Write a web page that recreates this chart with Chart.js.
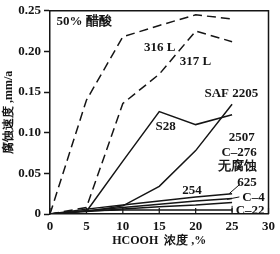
<!DOCTYPE html>
<html>
<head>
<meta charset="utf-8">
<script src="https://cdn.jsdelivr.net/npm/chart.js@4"></script>
<style>
  html, body { margin: 0; padding: 0; background: #fff; }
  #wrap { width: 280px; height: 254px; }
</style>
</head>
<body>
<div id="wrap"><canvas id="c"></canvas></div>
<script>
// HCOOH concentration, %
const conc = [0, 5, 10, 15, 20, 25];

// corrosion rate, mm/a
const s316L = [0, 0.14, 0.218, 0.232, 0.245, 0.24];
const s317L = [0, 0.008, 0.136, 0.172, 0.225, 0.212];
const sS28 = [null, 0.003, 0.065, 0.126, 0.11, 0.122];
const sSAF2205 = [null, 0.003, 0.01, 0.034, 0.078, 0.135];
const s254 = [0, 0.006, 0.011, 0.016, 0.021, 0.025];
const s625 = [0, 0.004, 0.008, 0.012, 0.016, 0.019];
const sC4 = [0, 0.003, 0.006, 0.009, 0.011, 0.014];
const sC22 = [0, 0.004, 0.005, 0.005, 0.005, 0.005];

const yTicks = [0, 0.05, 0.1, 0.15, 0.2, 0.25];
const yTickLabels = ['0', '0.05', '0.10', '0.15', '0.20', '0.25'];
const xTicks = [0, 5, 10, 15, 20, 25, 30];

// text notes placed in data units
const notes = [
  { t: '50% 醋酸', x: 0.9, y: 0.237, a: 'left' },
  { t: '316 L', x: 12.9, y: 0.205, a: 'left' },
  { t: '317 L', x: 17.8, y: 0.187, a: 'left' },
  { t: 'SAF 2205', x: 21.2, y: 0.148, a: 'left' },
  { t: 'S28', x: 14.5, y: 0.108, a: 'left' },
  { t: '2507', x: 28.1, y: 0.094, a: 'right' },
  { t: 'C–276', x: 28.4, y: 0.076, a: 'right' },
  { t: '无腐蚀', x: 28.4, y: 0.058, a: 'right' },
  { t: '625', x: 28.4, y: 0.039, a: 'right' },
  { t: '254', x: 19.5, y: 0.029, a: 'center' },
  { t: 'C–4', x: 26.4, y: 0.020, a: 'left' },
  { t: 'C–22', x: 25.5, y: 0.004, a: 'left' }
];
// leader lines from notes to curve ends
const leaders = [
  [[26.0, 0.036], [24.6, 0.025]],
  [[26.0, 0.021], [24.3, 0.018]],
  [[25.0, 0.010], [25.0, 0.002]]
];

const ink = '#151515';
const serif = '"Liberation Serif", "DejaVu Serif", serif';

function line(label, data, dashed) {
  return {
    label, data,
    borderColor: ink,
    borderWidth: 1.5,
    borderDash: dashed ? [9, 5] : [],
    pointRadius: 0,
    tension: 0,
    fill: false,
    spanGaps: false
  };
}

const decor = {
  id: 'decor',
  afterDraw(chart) {
    const { ctx, chartArea: a, scales: { x, y } } = chart;
    ctx.save();
    ctx.strokeStyle = ink;
    ctx.lineWidth = 1.5;
    // frame on top and right
    ctx.beginPath();
    ctx.moveTo(a.left, a.top);
    ctx.lineTo(a.right, a.top);
    ctx.lineTo(a.right, a.bottom);
    ctx.stroke();
    // inward x ticks
    ctx.lineWidth = 1.2;
    xTicks.forEach(v => {
      const px = x.getPixelForValue(v);
      ctx.beginPath();
      ctx.moveTo(px, a.bottom);
      ctx.lineTo(px, a.bottom - 6);
      ctx.stroke();
    });
    // leaders
    ctx.lineWidth = 1;
    leaders.forEach(l => {
      ctx.beginPath();
      ctx.moveTo(x.getPixelForValue(l[0][0]), y.getPixelForValue(l[0][1]));
      ctx.lineTo(x.getPixelForValue(l[1][0]), y.getPixelForValue(l[1][1]));
      ctx.stroke();
    });
    // notes
    ctx.fillStyle = ink;
    ctx.font = 'bold 13px ' + serif;
    ctx.textBaseline = 'middle';
    notes.forEach(n => {
      ctx.textAlign = n.a;
      ctx.fillText(n.t, x.getPixelForValue(n.x), y.getPixelForValue(n.y));
    });
    ctx.restore();
  }
};

new Chart(document.getElementById('c'), {
  type: 'line',
  data: {
    labels: conc,
    datasets: [
      line('316L', s316L, true),
      line('317L', s317L, true),
      line('S28', sS28, false),
      line('SAF 2205', sSAF2205, false),
      line('254', s254, false),
      line('625', s625, false),
      line('C-4', sC4, false),
      line('C-22', sC22, false)
    ].map(d => ({ ...d, data: d.data.map((v, i) => ({ x: conc[i], y: v })) }))
  },
  options: {
    responsive: true,
    maintainAspectRatio: false,
    animation: false,
    layout: { padding: { top: 4, right: 3, left: 0, bottom: 0 } },
    plugins: { legend: { display: false }, tooltip: { enabled: false } },
    scales: {
      x: {
        type: 'linear',
        min: 0, max: 30,
        afterBuildTicks: s => { s.ticks = xTicks.map(v => ({ value: v })); },
        afterFit: s => { s.height = 40; },
        border: { color: ink, width: 1.5 },
        grid: { display: true, drawOnChartArea: false, drawTicks: false },
        ticks: {
          color: ink, padding: 5,
          font: { family: serif, size: 13, weight: 'bold' }
        },
        title: {
          display: true, text: 'HCOOH  浓度 ,%', color: ink, padding: { top: 0, bottom: 6 },
          font: { family: serif, size: 12, weight: 'bold' }
        }
      },
      y: {
        min: 0, max: 0.25,
        afterBuildTicks: s => { s.ticks = yTicks.map(v => ({ value: v })); },
        afterFit: s => { s.width = 50; },
        border: { color: ink, width: 1.5 },
        grid: { drawOnChartArea: false, drawTicks: true, tickLength: 6, color: ink, tickWidth: 1.5 },
        ticks: {
          color: ink, padding: 3,
          font: { family: serif, size: 13, weight: 'bold' },
          callback: (v) => { const i = yTicks.indexOf(v); return i >= 0 ? yTickLabels[i] : ''; }
        },
        title: {
          display: true, text: '腐蚀速度 ,mm/a', color: ink, padding: { top: 2, bottom: 2 },
          font: { family: serif, size: 12, weight: 'bold' }
        }
      }
    }
  },
  plugins: [decor]
});
</script>
</body>
</html>
